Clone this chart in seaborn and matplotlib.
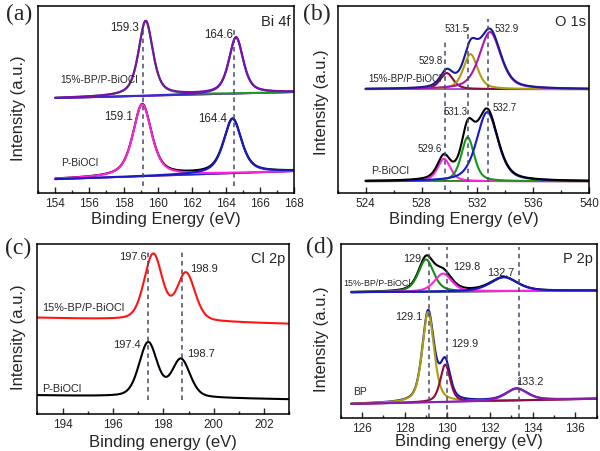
import numpy as np
import pandas as pd
import matplotlib
matplotlib.use("Agg")
import matplotlib.pyplot as plt
import seaborn as sns

sns.set_style("ticks")
plt.rcParams['font.family'] = ['Liberation Sans', 'DejaVu Sans']

# ---------------- data ----------------
# (a) Bi 4f
a_title = "Bi 4f"
a_ticks = [154, 156, 158, 160, 162, 164, 166, 168]
a_top_name = "15%-BP/P-BiOCl"
a_top_centers = [159.3, 164.6]
a_top_heights = [0.40, 0.30]
a_top_widths = [1.00, 1.00]
a_top_base = [0.508, 0.540]
a_bot_name = "P-BiOCl"
a_bot_centers = [159.1, 164.4]
a_bot_heights = [0.385, 0.29]
a_bot_widths = [1.30, 1.25]
a_bot_base = [0.075, 0.118]
a_peak_labels = ["159.3", "164.6", "159.1", "164.4"]
a_vlines = [159.15, 164.49]

# (b) O 1s
b_title = "O 1s"
b_ticks = [524, 528, 532, 536, 540]
b_top_name = "15%-BP/P-BiOCl"
b_top_centers = [529.8, 531.5, 532.9]
b_top_heights = [0.086, 0.187, 0.305]
b_top_widths = [1.1, 1.2, 1.8]
b_top_base = [0.556, 0.556]
b_bot_name = "P-BiOCl"
b_bot_centers = [529.6, 531.3, 532.7]
b_bot_heights = [0.12, 0.235, 0.37]
b_bot_widths = [1.1, 1.1, 1.8]
b_bot_base = [0.064, 0.064]
b_peak_labels = ["531.5", "532.9", "529.8", "531.3", "532.7", "529.6"]
b_vlines = [529.66, 531.35, 532.72]

# (c) Cl 2p
c_title = "Cl 2p"
c_ticks = [194, 196, 198, 200, 202]
c_top_name = "15%-BP/P-BiOCl"
c_top_centers = [197.6, 198.9]
c_top_heights = [0.387, 0.278]
c_top_widths = [0.85, 0.85]
c_top_base = [0.566, 0.530]
c_bot_name = "P-BiOCl"
c_bot_centers = [197.4, 198.7]
c_bot_heights = [0.318, 0.221]
c_bot_widths = [0.85, 0.85]
c_bot_base = [0.110, 0.086]
c_peak_labels = ["197.6", "198.9", "197.4", "198.7"]
c_vlines = [197.38, 198.73]

# (d) P 2p
d_title = "P 2p"
d_ticks = [126, 128, 130, 132, 134, 136]
d_top_name = "15%-BP/P-BiOCl"
d_top_centers = [129.0, 129.8, 132.65]
d_top_heights = [0.186, 0.104, 0.080]
d_top_widths = [0.85, 0.95, 1.5]
d_top_base = [0.722, 0.732]
d_bot_name = "BP"
d_bot_centers = [129.1, 129.9, 133.25]
d_bot_heights = [0.52, 0.215, 0.068]
d_bot_widths = [0.65, 0.55, 1.2]
d_bot_base = [0.079, 0.109]
d_peak_labels = ["129", "129.8", "132.7", "129.1", "129.9", "133.2"]
d_vlines = [129.16, 129.98, 133.34]

# ---------------- helpers ----------------
LW = 1.5


def pv(x, c, h, w, eta):
    g = w / 2.0
    L = g * g / ((x - c) ** 2 + g * g)
    s = w / 2.3548
    G = np.exp(-((x - c) ** 2) / (2 * s * s))
    return h * (eta * L + (1 - eta) * G)


def line(ax, x, y, color, lw=LW):
    sns.lineplot(x=x, y=y, ax=ax, color=color, linewidth=lw,
                 estimator=None, sort=False, legend=False)


def spectrum(ax, xr, base, centers, heights, widths, comp_colors, env_color,
             base_colors, env_first, eta=0.5):
    x = np.linspace(xr[0], xr[1], 700)
    b = base[0] + (base[1] - base[0]) * (x - xr[0]) / (xr[1] - xr[0])
    comps = [pv(x, c, h, w, eta) for c, h, w in zip(centers, heights, widths)]
    env = b + np.sum(comps, axis=0)
    for bc in base_colors:
        line(ax, x, b, bc, lw=1.2)
    if env_first and env_color:
        line(ax, x, env, env_color)
    for comp, cc in zip(comps, comp_colors):
        if cc:
            line(ax, x, b + comp, cc)
    if (not env_first) and env_color:
        line(ax, x, env, env_color)


def style_axes(ax, xlim, ticks, xlabel, title, lab_x, lab_y, xl_y):
    ax.set_xlim(*xlim)
    ax.set_ylim(0, 1)
    ax.set_xticks(ticks)
    ax.set_xticklabels([str(t) for t in ticks], fontsize=8.5)
    step = ticks[1] - ticks[0]
    ax.set_xticks(np.arange(ticks[0] - step / 2, xlim[1] + 0.01, step / 2), minor=True)
    ax.set_yticks([])
    ax.tick_params(axis='x', which='major', direction='in', length=4, width=1, pad=3)
    ax.tick_params(axis='x', which='minor', direction='in', length=2, width=1)
    for s in ax.spines.values():
        s.set_linewidth(1.1)
        s.set_color('black')
    ax.set_xlabel(xlabel, fontsize=12)
    ax.xaxis.set_label_coords(0.5, xl_y)
    ax.set_ylabel("Intensity (a.u.)", fontsize=12, va='center')
    ax.yaxis.set_label_coords(lab_x, lab_y)
    ax.text(0.985, 0.92, title, transform=ax.transAxes, ha='right', va='center',
            fontsize=10.5)


def vlines(ax, xs, y0, y1):
    for xv, a, b in zip(xs, y0, y1):
        ax.plot([xv, xv], [a, b], color='#4a4a66', lw=1.1, ls=(0, (3, 2.5)))


fig = plt.figure(figsize=(6.0, 4.52), dpi=100)
fig.patch.set_facecolor('white')
W, H = 600.0, 452.0


def add_axes(l, t, r, b):
    return fig.add_axes([l / W, 1 - b / H, (r - l) / W, (b - t) / H])


# ---------------- (a) ----------------
axa = add_axes(38.3, 7, 294, 194.3)
xr = (154, 168)
spectrum(axa, xr, a_top_base, a_top_centers, a_top_heights, a_top_widths,
         ['#1f9a2a', '#3a2ad0'], '#7a10a8', ['#3a2ad0', '#8a20b0'], env_first=False, eta=0.6)
spectrum(axa, xr, a_bot_base, a_bot_centers, a_bot_heights, a_bot_widths,
         ['#ff22d8', '#1a1ac8'], '#000000', ['#ff2a6a', '#2a2ad0'], env_first=True, eta=0.6)
vlines(axa, a_vlines, [0.04, 0.04], [0.885, 0.88])
style_axes(axa, xr, a_ticks, "Binding Energy (eV)", a_title, -0.079, 0.46, -0.095)
fs = 8.3
axa.text(158.04, 0.889, a_peak_labels[0], ha='center', va='center', fontsize=fs)
axa.text(163.57, 0.852, a_peak_labels[1], ha='center', va='center', fontsize=fs)
axa.text(157.70, 0.413, a_peak_labels[2], ha='center', va='center', fontsize=fs)
axa.text(163.24, 0.402, a_peak_labels[3], ha='center', va='center', fontsize=fs)
axa.text(154.26, 0.61, a_top_name, ha='left', va='center', fontsize=7.4)
axa.text(154.31, 0.167, a_bot_name, ha='left', va='center', fontsize=7.4)

# ---------------- (b) ----------------
axb = add_axes(337.7, 7, 589.3, 194.3)
xr = (524, 540)
spectrum(axb, xr, b_top_base, b_top_centers, b_top_heights, b_top_widths,
         ['#8a0a40', '#a8a010', '#a818b0'], '#1a1a98', ['#9a30c8'], env_first=False)
spectrum(axb, xr, b_bot_base, b_bot_centers, b_bot_heights, b_bot_widths,
         ['#ff22e0', '#169a16', '#1818d0'], '#000000', ['#ff2020', '#169a16'], env_first=False)
vlines(axb, b_vlines, [0.018, 0.018, 0.018], [0.814, 0.889, 0.932])
style_axes(axb, xr, b_ticks, "Binding Energy (eV)", b_title, -0.064, 0.49, -0.095)
fs = 7.0
axb.text(530.5, 0.881, b_peak_labels[0], ha='center', va='center', fontsize=fs)
axb.text(534.1, 0.881, b_peak_labels[1], ha='center', va='center', fontsize=fs)
axb.text(528.63, 0.713, b_peak_labels[2], ha='center', va='center', fontsize=fs)
axb.text(530.44, 0.442, b_peak_labels[3], ha='center', va='center', fontsize=fs)
axb.text(533.95, 0.46, b_peak_labels[4], ha='center', va='center', fontsize=fs)
axb.text(528.6, 0.241, b_peak_labels[5], ha='center', va='center', fontsize=fs)
axb.text(524.19, 0.615, b_top_name, ha='left', va='center', fontsize=7.0)
axb.text(524.36, 0.125, b_bot_name, ha='left', va='center', fontsize=7.6)

# ---------------- (c) ----------------
axc = add_axes(37.3, 245, 289.3, 415)
xr = (193, 203)
spectrum(axc, xr, c_top_base, c_top_centers, c_top_heights, c_top_widths,
         [], '#ff1414', [], env_first=True, eta=0.3)
spectrum(axc, xr, c_bot_base, c_bot_centers, c_bot_heights, c_bot_widths,
         [], '#000000', [], env_first=True, eta=0.3)
vlines(axc, c_vlines, [0.082, 0.082], [0.959, 0.97])
style_axes(axc, xr, c_ticks, "Binding energy (eV)", c_title, -0.075, 0.455, -0.118)
fs = 8.0
axc.text(196.81, 0.931, c_peak_labels[0], ha='center', va='center', fontsize=fs)
axc.text(199.62, 0.857, c_peak_labels[1], ha='center', va='center', fontsize=fs)
axc.text(196.55, 0.41, c_peak_labels[2], ha='center', va='center', fontsize=fs)
axc.text(199.50, 0.357, c_peak_labels[3], ha='center', va='center', fontsize=fs)
axc.text(193.2, 0.631, c_top_name, ha='left', va='center', fontsize=7.8)
axc.text(193.2, 0.151, c_bot_name, ha='left', va='center', fontsize=7.8)

# ---------------- (d) ----------------
axd = add_axes(340.7, 245, 596.7, 418.7)
xr = (125.5, 137)
spectrum(axd, xr, d_top_base, d_top_centers, d_top_heights, d_top_widths,
         ['#168a16', '#ff22e0', '#1818c8'], '#000000', ['#ff2020', '#1818c8', '#168a16'],
         env_first=True)
spectrum(axd, xr, d_bot_base, d_bot_centers, d_bot_heights, d_bot_widths,
         ['#a8a010', '#900a48', '#8a20b0'], '#1414b0', ['#9a30c8'], env_first=True)
vlines(axd, d_vlines, [0.0, 0.0, 0.0], [0.985, 0.985, 0.985])
style_axes(axd, (125, 137), d_ticks, "Binding energy (eV)", d_title, -0.074, 0.457, -0.088)
fs = 7.8
axd.text(128.33, 0.918, d_peak_labels[0], ha='center', va='center', fontsize=fs)
axd.text(130.9, 0.875, d_peak_labels[1], ha='center', va='center', fontsize=fs)
axd.text(132.52, 0.84, d_peak_labels[2], ha='center', va='center', fontsize=fs)
axd.text(128.17, 0.587, d_peak_labels[3], ha='center', va='center', fontsize=fs)
axd.text(130.83, 0.428, d_peak_labels[4], ha='center', va='center', fontsize=fs)
axd.text(133.87, 0.211, d_peak_labels[5], ha='center', va='center', fontsize=fs)
axd.text(125.12, 0.78, d_top_name, ha='left', va='center', fontsize=6.4)
axd.text(125.59, 0.155, d_bot_name, ha='left', va='center', fontsize=7.4)

# ---------------- panel letters ----------------
for lbl, px, py in [("(a)", 19, 14), ("(b)", 316.5, 14), ("(c)", 18.5, 248.5), ("(d)", 319.5, 247.5)]:
    fig.text(px / W, 1 - py / H, lbl, ha='center', va='center', fontsize=17,
             family=['Liberation Serif', 'DejaVu Serif'])

fig.savefig("out.png", dpi=100, facecolor='white')
